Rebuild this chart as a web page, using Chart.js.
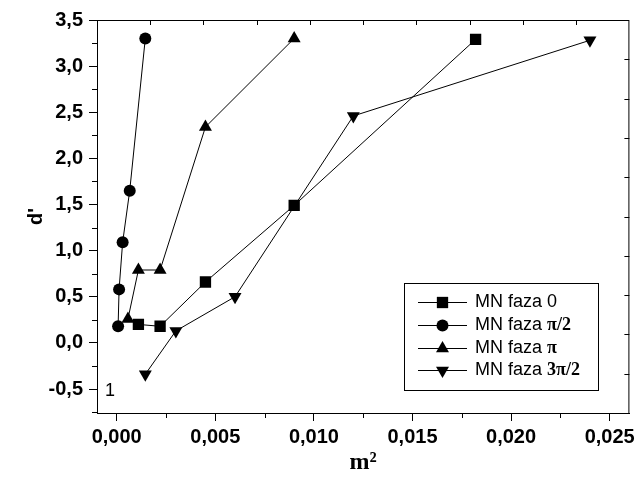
<!DOCTYPE html>
<html>
<head>
<meta charset="utf-8">
<script src="https://cdn.jsdelivr.net/npm/chart.js@4.4.0/dist/chart.umd.min.js"></script>
<style>
  html, body { margin: 0; padding: 0; background: #fff; }
</style>
</head>
<body>
<canvas id="chart" width="639" height="483"></canvas>
<script>
// series names and values
var seriesNames = ["MN faza 0", "MN faza π/2", "MN faza π", "MN faza 3π/2"];

var faza0X = [0.0011, 0.0022, 0.0045, 0.009, 0.0182];
var faza0Y = [0.2, 0.18, 0.66, 1.49, 3.29];

var fazaPi2X = [0.00007, 0.00012, 0.0003, 0.00066, 0.00145];
var fazaPi2Y = [0.18, 0.58, 1.09, 1.65, 3.3];

var fazaPiX = [0.00057, 0.0011, 0.0022, 0.0045, 0.009];
var fazaPiY = [0.26, 0.79, 0.79, 2.34, 3.3];

var faza3Pi2X = [0.00145, 0.003, 0.006, 0.012, 0.024];
var faza3Pi2Y = [-0.34, 0.13, 0.5, 2.46, 3.28];

// tick values
var xTickValues = [0, 0.005, 0.01, 0.015, 0.02, 0.025];
var yTickValues = [-0.5, 0, 0.5, 1, 1.5, 2, 2.5, 3, 3.5];
var xMinorTicks = [0.0025, 0.0075, 0.0125, 0.0175, 0.0225];
var yMinorTicks = [-0.75, -0.25, 0.25, 0.75, 1.25, 1.75, 2.25, 2.75, 3.25];

var cornerLabel = "1";

function toPoints(xs, ys) {
  return xs.map(function (x, i) { return { x: x, y: ys[i] }; });
}

function makeDataset(label, xs, ys, style, radius, rotation) {
  return {
    label: label,
    data: toPoints(xs, ys),
    showLine: true,
    borderColor: "#000",
    borderWidth: 1,
    backgroundColor: "#000",
    pointBackgroundColor: "#000",
    pointBorderColor: "#000",
    pointBorderWidth: 0,
    pointStyle: style,
    pointRadius: radius,
    pointRotation: rotation || 0,
    pointHoverRadius: radius,
  };
}

// minor ticks, top/right frame ticks, legend and corner label
var extrasPlugin = {
  id: "extras",
  afterDraw: function (chart) {
    var ctx = chart.ctx;
    var a = chart.chartArea;
    var xs = chart.scales.x;
    var ys = chart.scales.y;
    ctx.save();
    ctx.strokeStyle = "#000";
    ctx.lineWidth = 1;

    // frame
    ctx.strokeRect(a.left + 0.5, a.top + 0.5, a.right - a.left - 1, a.bottom - a.top);

    ctx.beginPath();
    xMinorTicks.forEach(function (v) {
      var px = Math.round(xs.getPixelForValue(v)) + 0.5;
      ctx.moveTo(px, a.bottom);
      ctx.lineTo(px, a.bottom + 5);
    });
    yMinorTicks.forEach(function (v) {
      var py = Math.round(ys.getPixelForValue(v)) + 0.5;
      ctx.moveTo(a.left - 5, py);
      ctx.lineTo(a.left, py);
    });
    // top and right axes carry 10 plain divisions
    for (var i = 1; i < 10; i++) {
      var tx = Math.round(a.left + (a.right - a.left) * i / 10) + 0.5;
      ctx.moveTo(tx, a.top);
      ctx.lineTo(tx, a.top + 5);
      var ty = Math.round(a.top + (a.bottom - a.top) * i / 10) + 0.5;
      ctx.moveTo(a.right, ty);
      ctx.lineTo(a.right - 5, ty);
    }
    ctx.stroke();

    // corner label
    ctx.fillStyle = "#000";
    ctx.font = "18px 'Liberation Sans', Arial, sans-serif";
    ctx.textAlign = "center";
    ctx.textBaseline = "middle";
    ctx.fillText(cornerLabel, a.left + 13, a.bottom - 22);

    // legend
    var bx = 404, by = 283, bw = 194, bh = 107;
    ctx.fillStyle = "#fff";
    ctx.fillRect(bx, by, bw, bh);
    ctx.strokeRect(bx + 0.5, by + 0.5, bw, bh);
    var rowY = [302, 325, 348, 370];
    chart.data.datasets.forEach(function (ds, i) {
      var y = rowY[i] + 0.5;
      ctx.beginPath();
      ctx.moveTo(418, y);
      ctx.lineTo(467, y);
      ctx.stroke();
      ctx.fillStyle = "#000";
      Chart.helpers.drawPoint(ctx, {
        pointStyle: ds.pointStyle,
        radius: ds.pointRadius,
        rotation: ds.pointRotation,
        borderWidth: 0,
      }, 442.5, y);
      ctx.textAlign = "left";
      ctx.textBaseline = "middle";
      var label = ds.label;
      var cut = label.indexOf("faza ") + 5;
      var head = label.slice(0, cut);
      var tail = label.slice(cut);
      ctx.font = "18px 'Liberation Sans', Arial, sans-serif";
      ctx.fillText(head, 475, y);
      var w = ctx.measureText(head).width;
      if (tail.indexOf("π") >= 0) {
        ctx.font = "bold 18px 'Liberation Serif', 'Times New Roman', serif";
      }
      ctx.fillText(tail, 475 + w, y);
    });
    ctx.restore();
  },
};

var tickFont = { family: "'Liberation Sans', Arial, sans-serif", size: 20, weight: "bold" };

var chart = new Chart(document.getElementById("chart").getContext("2d"), {
  type: "scatter",
  data: {
    datasets: [
      makeDataset(seriesNames[0], faza0X, faza0Y, "rect", 8, 0),
      makeDataset(seriesNames[1], fazaPi2X, fazaPi2Y, "circle", 6, 0),
      makeDataset(seriesNames[2], fazaPiX, fazaPiY, "triangle", 7.5, 0),
      makeDataset(seriesNames[3], faza3Pi2X, faza3Pi2Y, "triangle", 7.5, 180),
    ],
  },
  options: {
    responsive: false,
    animation: false,
    devicePixelRatio: 1,
    layout: { padding: { left: 0, top: 20, right: 7, bottom: 0 } },
    plugins: {
      legend: { display: false },
      tooltip: { enabled: false },
    },
    scales: {
      x: {
        type: "linear",
        min: -0.001,
        max: 0.026,
        afterBuildTicks: function (scale) {
          scale.ticks = xTickValues.map(function (v) { return { value: v }; });
        },
        afterFit: function (scale) { scale.height = 70; },
        ticks: {
          color: "#000",
          font: tickFont,
          padding: 4,
          maxRotation: 0,
          callback: function (v) { return v.toFixed(3).replace(".", ","); },
        },
        grid: { drawOnChartArea: false, tickLength: 8, tickColor: "#000", tickWidth: 1 },
        border: { display: true, color: "#000", width: 1 },
        title: {
          display: true,
          text: "m²",
          color: "#000",
          font: { family: "'Liberation Serif', 'Times New Roman', serif", size: 24, weight: "bold" },
          padding: { top: 0, bottom: 6 },
        },
      },
      y: {
        type: "linear",
        min: -0.76,
        max: 3.5,
        afterBuildTicks: function (scale) {
          scale.ticks = yTickValues.map(function (v) { return { value: v }; });
        },
        afterFit: function (scale) { scale.width = 97; },
        ticks: {
          color: "#000",
          font: tickFont,
          padding: 6,
          callback: function (v) { return v.toFixed(1).replace(".", ","); },
        },
        grid: { drawOnChartArea: false, tickLength: 8, tickColor: "#000", tickWidth: 1 },
        border: { display: true, color: "#000", width: 1 },
        title: {
          display: true,
          text: "d'",
          color: "#000",
          font: { family: "'Liberation Sans', Arial, sans-serif", size: 20, weight: "bold" },
          padding: { top: 24, bottom: 0 },
        },
      },
    },
  },
  plugins: [extrasPlugin],
});
</script>
</body>
</html>
